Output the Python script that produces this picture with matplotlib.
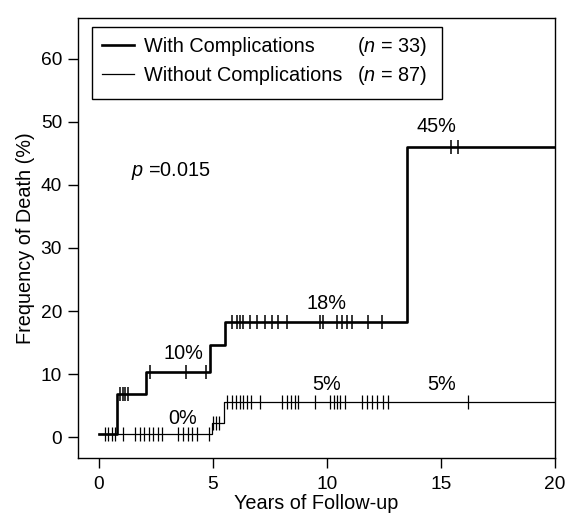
import numpy as np
import matplotlib
matplotlib.use('Agg')
import matplotlib.pyplot as plt
from matplotlib.lines import Line2D
from matplotlib.patches import Rectangle

plt.rcParams['font.family'] = ['Liberation Sans', 'DejaVu Sans']
plt.rcParams['mathtext.fontset'] = 'custom'
plt.rcParams['mathtext.rm'] = 'Liberation Sans'
plt.rcParams['mathtext.it'] = 'Liberation Sans:italic'

# step curves (years, % dead)
with_t = [0, 0.82, 2.1, 4.9, 5.56, 13.5, 20]
with_y = [0.55, 6.8, 10.3, 14.6, 18.3, 46.0, 46.0]
with_cens = [0.95, 1.07, 1.18, 1.3, 2.27, 3.85, 4.7, 5.83, 6.05, 6.2, 6.34,
             6.64, 6.93, 7.3, 7.59, 7.88, 8.27, 9.7, 9.85, 10.43, 10.65,
             10.87, 11.09, 11.82, 12.4, 15.45, 15.75]

without_t = [0, 4.95, 5.5, 20]
without_y = [0.55, 2.3, 5.5, 5.5]
without_cens = [0.28, 0.42, 0.57, 0.72, 1.07, 1.6, 1.8, 2.0, 2.2, 2.4, 2.6,
                2.8, 3.5, 3.7, 3.9, 4.1, 4.3, 4.85, 5.02, 5.14, 5.26, 5.63,
                5.85, 6.0, 6.2, 6.34, 6.49, 6.7, 7.07, 8.05, 8.25, 8.45, 8.6,
                8.75, 9.5, 10.15, 10.3, 10.45, 10.6, 10.8, 11.55, 11.75, 12.0,
                12.2, 12.45, 12.7, 16.2]

pct_labels = ['10%', '18%', '45%', '0%', '5%', '5%']
pct_x = [3.7, 10.0, 14.8, 3.7, 10.0, 15.05]
pct_y = [13.3, 21.2, 49.3, 3.0, 8.3, 8.3]

n_labels = ['($\\it{n}$ = 33)', '($\\it{n}$ = 87)']

FS = 14.3


def level_at(t, y, c):
    idx = np.searchsorted(t, c, side='right') - 1
    return np.asarray(y)[idx]


fig = plt.figure(figsize=(5.67, 5.16), dpi=100)
ax = fig.add_axes([0.1376, 0.1124, 0.8413, 0.8527])

ax.step(with_t, with_y, where='post', color='black', lw=1.9)
ax.plot(with_cens, level_at(with_t, with_y, with_cens), ls='none',
        marker='|', ms=10.5, mew=1.1, color='black')
ax.step(without_t, without_y, where='post', color='black', lw=0.9)
ax.plot(without_cens, level_at(without_t, without_y, without_cens), ls='none',
        marker='|', ms=9.5, mew=0.9, color='black')

for s, x, y in zip(pct_labels, pct_x, pct_y):
    ax.text(x, y, s, ha='center', va='center', fontsize=FS)

ax.text(1.4, 42.2, '$\\it{p}$ =0.015', ha='left', va='center', fontsize=FS)

ax.set_xlim(-0.9, 20)
ax.set_ylim(-3.33, 66.5)
ax.set_xticks([0, 5, 10, 15, 20])
ax.set_yticks([0, 10, 20, 30, 40, 50, 60])
ax.tick_params(direction='out', length=7.5, width=1, labelsize=13.8)
ax.tick_params(axis='x', pad=5.5)
ax.tick_params(axis='y', pad=4)
for sp in ax.spines.values():
    sp.set_linewidth(1)
ax.set_xlabel('Years of Follow-up', fontsize=FS, labelpad=0.5)
ax.set_ylabel('Frequency of Death (%)', fontsize=FS, labelpad=4)

handles = [Line2D([], [], color='black', lw=1.9),
           Line2D([], [], color='black', lw=0.9)]
leg = ax.legend(handles, ['With Complications', 'Without Complications'],
                loc='upper left', bbox_to_anchor=(0.029, 0.98),
                borderaxespad=0, frameon=False, fontsize=FS,
                handlelength=1.6, handletextpad=0.55, labelspacing=0.5,
                borderpad=0.5)

fig.canvas.draw()
inv = ax.transAxes.inverted()
lb = leg.get_window_extent().transformed(inv)
y0 = lb.y0 - 0.011
ax.add_patch(Rectangle((lb.x0, y0), 0.763 - lb.x0, lb.y1 - y0,
                       transform=ax.transAxes, fill=False, ec='black',
                       lw=1, zorder=5))
for txt, s in zip(leg.get_texts(), n_labels):
    tb = txt.get_window_extent().transformed(inv)
    ax.text(0.585, (tb.y0 + tb.y1) / 2, s, transform=ax.transAxes,
            ha='left', va='center', fontsize=FS)

fig.savefig('out.png', dpi=100)
